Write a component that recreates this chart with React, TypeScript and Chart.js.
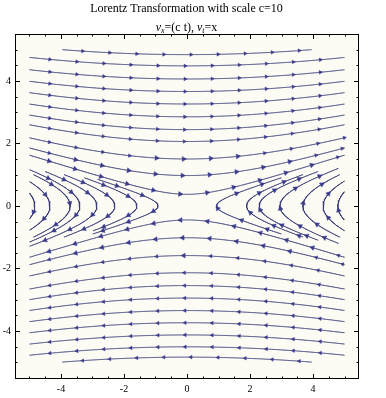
import React, { useEffect, useRef } from 'react';
import { Chart, registerables } from 'chart.js';

Chart.register(...registerables);

// Vector field: v_x = C * t, v_t = x  (streamlines are x^2 - C t^2 = const)
const C = 10;
const DOMAIN = 5;

// Streamlines above/below the x axis, given by their t value at x = 0
const upperLevels = [0.37, 0.97, 1.5, 2.06, 2.44, 2.85, 3.26, 3.66, 4.06, 4.48, 4.84];
const lowerLevels = [-0.45, -1.02, -1.59, -2.14, -2.55, -2.95, -3.35, -3.74, -4.13, -4.51, -4.84];

// Streamlines left/right of the t axis, given by their vertex x (at t = 0) and t extent
const leftVertex = [-0.92, -1.59, -2.29, -2.86, -3.4, -3.71, -4.35, -4.83];
const leftTop = [0.85, 0.9, 1.0, 1.1, 1.2, 1.0, 0.8, 0.42];
const leftBottom = [-0.9, -0.8, -1.0, -1.3, -1.2, -1.0, -0.8, -0.42];

const rightVertex = [0.94, 1.89, 2.29, 2.95, 3.68, 4.32, 4.79];
const rightTop = [0.9, 1.0, 1.1, 1.2, 1.0, 0.8, 0.45];
const rightBottom = [-0.9, -1.0, -1.1, -1.2, -1.0, -0.8, -0.45];

const xTicks = [-4, -2, 0, 2, 4];
const yTicks = [-4, -2, 0, 2, 4];
const MINOR_STEP = 0.5;

const ARROW_START = 0.65;
const ARROW_GAP = 0.86;

const LINE_COLOR = '#3a3c78';
const ARROW_COLOR = '#3e3f98';

type P = { x: number; y: number };

function upperLine(t0: number): P[] {
  const pts: P[] = [];
  const s = Math.sign(t0);
  for (let i = 0; i <= 1000; i++) {
    const x = -DOMAIN + (2 * DOMAIN * i) / 1000;
    const t = s * Math.sqrt(t0 * t0 + (x * x) / C);
    if (Math.abs(t) <= DOMAIN) pts.push({ x, y: t });
  }
  return pts;
}

function sideLine(v: number, tb: number, tt: number): P[] {
  const pts: P[] = [];
  const s = Math.sign(v);
  const n = 400;
  for (let i = 0; i <= n; i++) {
    const t = tt + ((tb - tt) * i) / n;
    const x = s * Math.sqrt(v * v + C * t * t);
    if (Math.abs(x) <= DOMAIN) pts.push({ x, y: t });
  }
  return pts;
}

function arrowsOn(pts: P[]): P[] {
  const out: P[] = [];
  let acc = 0;
  let next = ARROW_START;
  for (let i = 1; i < pts.length; i++) {
    const dx = pts[i].x - pts[i - 1].x;
    const dy = pts[i].y - pts[i - 1].y;
    const d = Math.hypot(dx, dy);
    while (acc + d >= next) {
      const f = (next - acc) / d;
      out.push({ x: pts[i - 1].x + dx * f, y: pts[i - 1].y + dy * f });
      next += ARROW_GAP;
    }
    acc += d;
  }
  return out;
}

const framePlugin = {
  id: 'frameTicks',
  beforeDraw(chart: any) {
    const { ctx, chartArea: a } = chart;
    ctx.save();
    ctx.fillStyle = '#fcfcf5';
    ctx.fillRect(a.left, a.top, a.right - a.left, a.bottom - a.top);
    ctx.restore();
  },
  afterDraw(chart: any) {
    const { ctx, chartArea: a, scales } = chart;
    const xs = scales.x;
    const ys = scales.y;
    ctx.save();
    ctx.strokeStyle = '#000';
    ctx.lineWidth = 1;
    ctx.strokeRect(a.left + 0.5, a.top + 0.5, a.right - a.left - 1, a.bottom - a.top - 1);
    ctx.beginPath();
    for (let v = -DOMAIN; v <= DOMAIN + 1e-9; v += MINOR_STEP) {
      const vv = Math.round(v * 10) / 10;
      const len = xTicks.includes(vv) ? 5 : 2.5;
      const px = Math.round(xs.getPixelForValue(vv)) + 0.5;
      ctx.moveTo(px, a.bottom);
      ctx.lineTo(px, a.bottom - len);
      ctx.moveTo(px, a.top);
      ctx.lineTo(px, a.top + len);
      const leny = yTicks.includes(vv) ? 5 : 2.5;
      const py = Math.round(ys.getPixelForValue(vv)) + 0.5;
      ctx.moveTo(a.left, py);
      ctx.lineTo(a.left + leny, py);
      ctx.moveTo(a.right, py);
      ctx.lineTo(a.right - leny, py);
    }
    ctx.stroke();
    ctx.restore();
  },
};

export default function App() {
  const ref = useRef<HTMLCanvasElement | null>(null);

  useEffect(() => {
    if (!ref.current) return;
    const lines: P[][] = [];
    upperLevels.forEach((t0) => lines.push(upperLine(t0)));
    lowerLevels.forEach((t0) => lines.push(upperLine(t0)));
    leftVertex.forEach((v, i) => lines.push(sideLine(v, leftBottom[i], leftTop[i])));
    rightVertex.forEach((v, i) => lines.push(sideLine(v, rightBottom[i], rightTop[i])));

    const arrows: P[] = [];
    lines.forEach((l) => arrows.push(...arrowsOn(l)));

    const datasets: any[] = lines.map((l) => ({
      type: 'scatter',
      data: l,
      showLine: true,
      borderColor: LINE_COLOR,
      borderWidth: 1,
      pointRadius: 0,
      pointHoverRadius: 0,
      fill: false,
      tension: 0,
    }));
    datasets.push({
      type: 'scatter',
      data: arrows,
      showLine: false,
      pointStyle: 'triangle',
      pointRadius: (ctx: any) => {
        const p = ctx.raw as P;
        if (!p) return 2;
        const speed = Math.hypot(C * p.y, p.x);
        return speed < 16 ? 2.8 : 2.1;
      },
      backgroundColor: ARROW_COLOR,
      borderColor: ARROW_COLOR,
      borderWidth: 0.5,
      rotation: (ctx: any) => {
        const p = ctx.raw as P;
        if (!p) return 0;
        return (Math.atan2(C * p.y, p.x) * 180) / Math.PI;
      },
    });

    const tickFont = { family: '"Liberation Serif", "Times New Roman", serif', size: 10 };
    const chart = new Chart(ref.current, {
      type: 'scatter',
      data: { datasets },
      plugins: [framePlugin],
      options: {
        animation: false,
        responsive: false,
        devicePixelRatio: 1,
        layout: { padding: { top: 34, right: 27, left: 0, bottom: 0 } },
        plugins: { legend: { display: false }, tooltip: { enabled: false }, title: { display: false } },
        events: [],
        scales: {
          x: {
            type: 'linear',
            min: -5.46,
            max: 5.46,
            grid: { display: false, drawTicks: false },
            border: { display: false },
            afterBuildTicks: (s: any) => {
              s.ticks = xTicks.map((v) => ({ value: v }));
            },
            afterFit: (s: any) => {
              s.height = 19;
            },
            ticks: {
              font: tickFont,
              color: '#000',
              padding: 4,
              maxRotation: 0,
              autoSkip: false,
              callback: (v: any) => String(v),
            },
          },
          y: {
            type: 'linear',
            min: -5.54,
            max: 5.5,
            grid: { display: false, drawTicks: false },
            border: { display: false },
            afterBuildTicks: (s: any) => {
              s.ticks = yTicks.map((v) => ({ value: v }));
            },
            afterFit: (s: any) => {
              s.width = 15;
            },
            ticks: {
              font: tickFont,
              color: '#000',
              padding: 4,
              autoSkip: false,
              callback: (v: any) => String(v),
            },
          },
        },
      },
    });
    return () => chart.destroy();
  }, []);

  const titleFont: React.CSSProperties = {
    fontFamily: '"Liberation Serif", "Times New Roman", serif',
    fontSize: 12,
    color: '#000',
    position: 'absolute',
    left: 0,
    width: 373,
    textAlign: 'center',
    lineHeight: '14px',
    whiteSpace: 'nowrap',
  };

  return (
    <div style={{ position: 'fixed', left: 0, top: 0, width: 386, height: 398, background: '#fff' }}>
      <canvas ref={ref} width={386} height={398} style={{ position: 'absolute', left: 0, top: 0 }} />
      <div style={{ ...titleFont, top: 1 }}>Lorentz Transformation with scale c=10</div>
      <div style={{ ...titleFont, top: 20 }}>
        <i>ν</i>
        <sub style={{ fontSize: 8, fontStyle: 'italic', verticalAlign: '-2px' }}>x</sub>=(c t),{' '}
        <i>ν</i>
        <sub style={{ fontSize: 8, fontStyle: 'italic', verticalAlign: '-2px' }}>t</sub>=x
      </div>
    </div>
  );
}
